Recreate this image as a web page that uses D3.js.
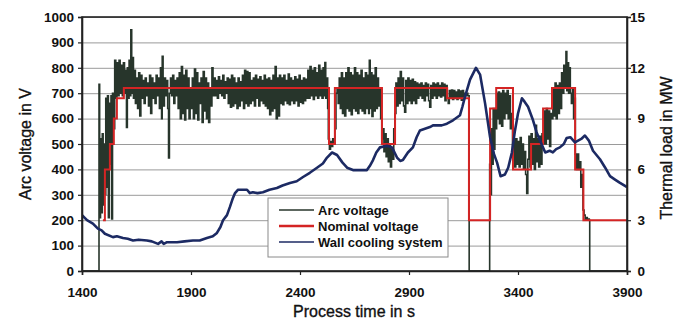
<!DOCTYPE html>
<html><head><meta charset="utf-8">
<script src="https://cdn.jsdelivr.net/npm/d3@7"></script>
<style>
html,body{margin:0;padding:0;background:#fff;}
svg{display:block;font-family:"Liberation Sans",Arial,sans-serif;}
</style></head>
<body><svg id="chart" width="681" height="322"></svg>
<script>
// ---- data ----
const timeTicks = [1400, 1900, 2400, 2900, 3400, 3900];
const voltTicks = [0, 100, 200, 300, 400, 500, 600, 700, 800, 900, 1000];
const loadTicks = [0, 3, 6, 9, 12, 15];
const seriesNames = ["Arc voltage", "Nominal voltage", "Wall cooling system"];

// Nominal voltage set-point [time s, V] (step)
const nominalVoltage = [[1496,200],[1505,400],[1528,500],[1546,600],[1560,680],[1592,720],[2533,500],[2560,720],[2776,500],[2836,720],[3075,680],[3175,200],[3272,640],[3300,720],[3377,400],[3460,500],[3515,640],[3556,720],[3662,400],[3700,200],[3900,200]];

// Wall cooling system thermal load [time s, MW]
const wallCooling = [[1400,3.3],[1423,3.0],[1450,2.8],[1473,2.5],[1490,2.4],[1505,2.2],[1542,2.0],[1560,2.05],[1588,1.95],[1610,1.9],[1634,1.8],[1660,1.85],[1698,1.8],[1720,1.75],[1749,1.6],[1765,1.75],[1775,1.6],[1790,1.7],[1836,1.7],[1870,1.75],[1909,1.8],[1940,1.8],[1973,1.95],[2000,2.05],[2019,2.25],[2035,2.6],[2047,3.0],[2065,3.3],[2079,3.8],[2092,4.3],[2102,4.6],[2116,4.8],[2157,4.8],[2170,4.6],[2184,4.65],[2205,4.6],[2230,4.65],[2260,4.8],[2294,4.9],[2320,5.05],[2354,5.2],[2385,5.3],[2414,5.55],[2445,5.8],[2478,6.1],[2505,6.35],[2524,6.7],[2547,7.0],[2570,6.85],[2595,6.4],[2616,6.1],[2643,5.96],[2707,5.96],[2720,6.2],[2735,6.55],[2750,7.0],[2767,7.3],[2799,7.4],[2822,7.3],[2845,6.7],[2860,6.5],[2872,6.55],[2895,7.0],[2918,7.3],[2935,7.9],[2950,8.3],[2996,8.5],[3010,8.6],[3050,8.6],[3074,8.7],[3102,8.9],[3134,9.2],[3145,9.7],[3157,10.3],[3180,11.3],[3207,12.0],[3226,11.6],[3249,9.9],[3272,7.9],[3290,6.9],[3304,6.4],[3320,5.6],[3340,5.7],[3355,6.1],[3372,7.0],[3385,8.2],[3400,9.3],[3418,10.2],[3430,10.0],[3446,9.7],[3469,8.9],[3485,8.2],[3501,7.7],[3525,7.0],[3545,7.1],[3560,7.0],[3575,7.2],[3592,7.3],[3610,7.5],[3623,7.85],[3640,7.9],[3661,7.6],[3690,7.8],[3707,8.0],[3725,7.7],[3744,7.1],[3776,6.6],[3800,6.1],[3822,5.6],[3845,5.4],[3868,5.2],[3900,4.96]];

// Arc voltage [time s, V]
const arcVoltage = [[1400,0],[1476,0],[1478,735],[1481,210],[1485,520],[1489,230],[1493,540],[1497,260],[1501,500],[1505,300],[1509,680],[1513,330],[1517,690],[1521,210],[1525,660],[1529,420],[1533,690],[1536,205],[1540,700],[1545,560],[1550,830],[1555,680],[1560,820],[1565,690],[1570,830],[1575,700],[1580,810],[1585,690],[1590,820],[1595,700],[1600,790],[1604,565],[1608,800],[1612,680],[1616,830],[1620,690],[1624,950],[1628,700],[1632,840],[1636,680],[1640,790],[1645,660],[1650,760],[1655,640],[1660,780],[1665,610],[1670,770],[1675,680],[1680,750],[1685,660],[1690,760],[1695,690],[1700,740],[1705,650],[1710,770],[1715,620],[1720,760],[1725,680],[1730,740],[1735,660],[1740,770],[1745,690],[1750,760],[1755,640],[1760,800],[1765,600],[1768,845],[1772,650],[1778,760],[1783,690],[1788,750],[1793,640],[1797,445],[1801,700],[1806,760],[1811,690],[1816,770],[1821,660],[1826,750],[1831,690],[1836,760],[1841,640],[1846,780],[1851,600],[1856,805],[1861,620],[1866,770],[1871,595],[1876,790],[1881,640],[1886,760],[1891,600],[1896,720],[1901,640],[1906,760],[1911,600],[1916,795],[1921,620],[1926,780],[1931,595],[1936,740],[1941,660],[1946,760],[1951,585],[1956,785],[1961,630],[1966,760],[1971,600],[1976,740],[1981,585],[1986,720],[1991,650],[1996,800],[2001,690],[2006,760],[2011,690],[2016,750],[2021,680],[2026,765],[2031,700],[2036,750],[2041,690],[2046,770],[2051,680],[2056,745],[2061,700],[2066,760],[2071,660],[2076,755],[2081,645],[2086,770],[2091,650],[2096,760],[2101,660],[2106,740],[2111,640],[2116,760],[2121,650],[2126,745],[2131,670],[2136,770],[2141,640],[2146,790],[2151,660],[2156,785],[2161,650],[2166,780],[2171,660],[2176,750],[2181,670],[2186,760],[2191,650],[2196,770],[2201,680],[2206,755],[2211,650],[2216,765],[2221,670],[2226,750],[2231,660],[2236,770],[2241,650],[2246,755],[2251,640],[2256,760],[2261,615],[2266,750],[2271,630],[2276,770],[2281,640],[2286,805],[2291,600],[2296,760],[2301,610],[2306,770],[2311,660],[2316,760],[2321,655],[2326,770],[2331,670],[2336,750],[2341,660],[2346,775],[2351,655],[2356,760],[2361,670],[2366,750],[2371,660],[2376,765],[2381,670],[2386,755],[2391,650],[2396,770],[2401,665],[2406,750],[2411,660],[2416,760],[2421,670],[2426,755],[2431,680],[2436,790],[2441,680],[2446,805],[2451,690],[2456,790],[2461,675],[2466,800],[2471,690],[2476,780],[2481,680],[2486,810],[2491,690],[2496,790],[2501,680],[2506,800],[2511,690],[2514,821],[2518,680],[2523,760],[2527,640],[2530,520],[2535,480],[2540,510],[2545,490],[2550,520],[2555,500],[2560,560],[2565,700],[2570,720],[2575,660],[2580,760],[2585,640],[2590,780],[2595,620],[2600,760],[2605,610],[2610,780],[2615,640],[2620,800],[2625,630],[2630,780],[2635,615],[2640,770],[2645,640],[2650,800],[2655,630],[2660,780],[2665,620],[2670,770],[2675,640],[2680,790],[2685,630],[2690,760],[2695,620],[2700,780],[2705,640],[2710,770],[2715,620],[2718,830],[2722,640],[2726,780],[2730,608],[2735,770],[2740,630],[2745,800],[2750,640],[2755,760],[2760,650],[2765,720],[2770,600],[2775,520],[2780,560],[2785,470],[2790,540],[2795,450],[2800,520],[2805,430],[2810,500],[2815,410],[2820,480],[2825,440],[2830,560],[2835,620],[2840,740],[2845,650],[2850,760],[2855,660],[2860,785],[2865,670],[2870,760],[2875,650],[2880,625],[2885,750],[2890,660],[2895,760],[2900,670],[2905,750],[2910,660],[2915,755],[2920,670],[2925,745],[2930,660],[2935,740],[2940,680],[2945,735],[2950,690],[2955,740],[2960,680],[2965,730],[2970,670],[2975,740],[2980,690],[2985,735],[2990,670],[2995,645],[3000,730],[3005,680],[3010,740],[3015,690],[3020,735],[3025,680],[3030,740],[3035,690],[3040,730],[3045,685],[3050,740],[3055,690],[3060,735],[3065,670],[3070,730],[3075,680],[3080,660],[3085,710],[3090,680],[3095,712],[3100,675],[3105,710],[3110,680],[3115,705],[3120,675],[3125,712],[3130,680],[3135,708],[3140,672],[3145,710],[3150,685],[3155,700],[3160,690],[3165,700],[3170,690],[3174,690],[3176,0],[3268,0],[3270,420],[3274,300],[3278,560],[3282,420],[3286,640],[3290,480],[3294,640],[3298,560],[3302,700],[3306,600],[3310,705],[3315,580],[3320,700],[3325,570],[3330,710],[3335,600],[3340,700],[3345,620],[3350,710],[3355,600],[3360,690],[3365,560],[3370,620],[3375,470],[3380,520],[3385,410],[3390,520],[3395,420],[3400,510],[3405,410],[3410,525],[3415,420],[3420,500],[3425,405],[3430,470],[3435,380],[3440,305],[3445,440],[3450,530],[3455,410],[3460,540],[3465,420],[3470,520],[3475,400],[3480,574],[3485,430],[3490,520],[3495,410],[3500,530],[3505,420],[3510,540],[3515,500],[3520,630],[3525,500],[3530,640],[3535,520],[3540,630],[3545,490],[3550,620],[3555,600],[3560,720],[3565,610],[3570,740],[3575,600],[3580,730],[3585,620],[3590,740],[3595,640],[3600,780],[3605,700],[3610,810],[3615,720],[3620,864],[3624,710],[3628,820],[3632,700],[3636,800],[3640,700],[3645,660],[3650,720],[3655,600],[3660,680],[3663,460],[3668,400],[3673,460],[3678,400],[3683,430],[3688,330],[3693,380],[3698,240],[3703,220],[3708,200],[3713,210],[3718,200],[3723,205],[3727,200],[3729,0],[3900,0]];

// ---- drawing ----
const svg = d3.select("#chart");
const L = 82, R = 627, T = 17, B = 271;
const x = d3.scaleLinear().domain([1400, 3900]).range([L, R]);
const yV = d3.scaleLinear().domain([0, 1000]).range([B, T]);
const yMW = d3.scaleLinear().domain([0, 15]).range([B, T]);

// gridlines
svg.append("g").attr("transform", `translate(${L},0)`)
  .call(d3.axisLeft(yV).tickValues(voltTicks).tickSize(-(R - L)).tickFormat(""))
  .call(g => g.select(".domain").remove())
  .call(g => g.selectAll("line").attr("stroke", "#9a9a9a").attr("stroke-width", 1));

// clip
svg.append("clipPath").attr("id", "clip").append("rect")
  .attr("x", L).attr("y", T - 2).attr("width", R - L).attr("height", B - T + 2);

const plot = svg.append("g").attr("clip-path", "url(#clip)");

const arcLine = d3.line().x(d => x(d[0])).y(d => yV(d[1])).curve(d3.curveStepAfter);
plot.append("path").datum(arcVoltage).attr("d", arcLine)
  .attr("fill", "none").attr("stroke", "#27352b").attr("stroke-width", 1.6).attr("stroke-linejoin", "miter");

const nomLine = d3.line().x(d => x(d[0])).y(d => yV(d[1])).curve(d3.curveStepAfter);
plot.append("path").datum(nominalVoltage).attr("d", nomLine)
  .attr("fill", "none").attr("stroke", "#d42424").attr("stroke-width", 2);

const wallLine = d3.line().x(d => x(d[0])).y(d => yMW(d[1]));
plot.append("path").datum(wallCooling).attr("d", wallLine)
  .attr("fill", "none").attr("stroke", "#1c2a63").attr("stroke-width", 2.6).attr("stroke-linejoin", "round");

// frame
svg.append("rect").attr("x", L).attr("y", T).attr("width", R - L).attr("height", B - T)
  .attr("fill", "none").attr("stroke", "#222").attr("stroke-width", 1.6);

// axes
const fmtAxis = g => {
  g.select(".domain").attr("stroke", "#222").attr("stroke-width", 1.6);
  g.selectAll(".tick line").attr("stroke", "#222").attr("stroke-width", 1.2);
  g.selectAll(".tick text").attr("fill", "#111").attr("font-size", "13.5px").attr("font-weight", "bold")
    .attr("font-family", '"Liberation Sans", Arial, sans-serif');
};
svg.append("g").attr("transform", `translate(0,${B})`)
  .call(d3.axisBottom(x).tickValues(timeTicks).tickSize(4).tickPadding(12).tickFormat(d3.format("d")))
  .call(fmtAxis);
svg.append("g").attr("transform", `translate(${L},0)`)
  .call(d3.axisLeft(yV).tickValues(voltTicks).tickSize(4).tickPadding(4).tickFormat(d3.format("d")))
  .call(fmtAxis);
const rAx = svg.append("g").attr("transform", `translate(${R},0)`)
  .call(d3.axisRight(yMW).tickValues(loadTicks).tickSize(4).tickPadding(5).tickFormat(d3.format("d")))
  .call(fmtAxis);
rAx.selectAll(".tick text").attr("text-anchor", "end").attr("x", 18);

// axis titles
const titleStyle = t => t.attr("text-anchor", "middle").attr("font-size", "16px").attr("fill", "#111")
  .attr("stroke", "#111").attr("stroke-width", 0.35);
svg.append("text").attr("transform", "translate(31,144) rotate(-90)").call(titleStyle).text("Arc voltage in V");
svg.append("text").attr("transform", "translate(672,148) rotate(-90)").call(titleStyle).text("Thermal load in MW");
svg.append("text").attr("x", 354).attr("y", 317).call(titleStyle).text("Process time in s");

// legend
const lg = svg.append("g");
lg.append("rect").attr("x", 268).attr("y", 198).attr("width", 180).attr("height", 59)
  .attr("fill", "#fff").attr("stroke", "#8a8a8a").attr("stroke-width", 1);
const legendColors = ["#27352b", "#d42424", "#1c2a63"];
const legendWidths = [1.5, 2.6, 1.5];
seriesNames.forEach((name, i) => {
  const cy = 210 + i * 16;
  lg.append("line").attr("x1", 279).attr("x2", 314).attr("y1", cy).attr("y2", cy)
    .attr("stroke", legendColors[i]).attr("stroke-width", legendWidths[i]);
  lg.append("text").attr("x", 318).attr("y", cy + 4.5).attr("font-size", "13px").attr("font-weight", "bold")
    .attr("fill", "#111").text(name);
});
</script></body></html>
